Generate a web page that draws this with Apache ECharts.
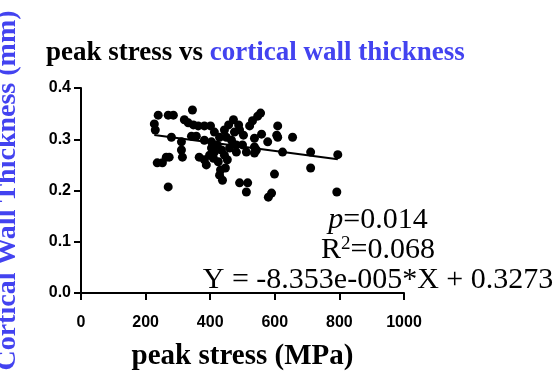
<!DOCTYPE html>
<html>
<head>
<meta charset="utf-8">
<script src="https://cdn.jsdelivr.net/npm/echarts@6/dist/echarts.min.js"></script>
<style>
  html, body { margin: 0; padding: 0; background: #fff; }
  #chart { width: 555px; height: 381px; }
</style>
</head>
<body>
<div id="chart"></div>
<script>
// Peak stress (MPa) per specimen
const peakStress = [
  239, 270, 286, 345, 227, 230, 320, 332, 348, 363,
  382, 401, 457, 472, 488, 522, 531, 547, 556, 609,
  280, 311, 342, 357, 429, 450, 404, 404, 481, 500,
  537, 537, 578, 609, 655, 624, 711, 795, 711, 599,
  590, 580, 792, 264, 273, 236, 252, 314, 311, 366,
  388, 382, 429, 438, 481, 512, 537, 491, 516, 512,
  270, 413, 422, 435, 444, 453, 460, 466, 410, 425,
  447, 432, 398, 475, 491, 444, 413, 382, 503, 559,
  606, 543
];
// Cortical wall thickness (mm) per specimen
const wallThickness = [
  0.347, 0.347, 0.347, 0.357, 0.330, 0.318, 0.338, 0.332, 0.328, 0.326,
  0.326, 0.326, 0.328, 0.338, 0.328, 0.326, 0.336, 0.345, 0.351, 0.326,
  0.304, 0.295, 0.306, 0.306, 0.304, 0.304, 0.295, 0.283, 0.289, 0.289,
  0.302, 0.285, 0.295, 0.304, 0.304, 0.275, 0.275, 0.270, 0.244, 0.232,
  0.195, 0.187, 0.197, 0.265, 0.265, 0.254, 0.254, 0.265, 0.279, 0.265,
  0.250, 0.260, 0.230, 0.220, 0.275, 0.275, 0.273, 0.215, 0.215, 0.197,
  0.207, 0.275, 0.289, 0.279, 0.269, 0.260, 0.283, 0.298, 0.263, 0.256,
  0.244, 0.240, 0.269, 0.314, 0.318, 0.318, 0.314, 0.298, 0.308, 0.310,
  0.308, 0.279
];
// Linear fit reported for the data
const fitSlope = -8.353e-5;
const fitIntercept = 0.3273;
const fitEquation = 'Y = -8.353e-005*X + 0.3273';
const fitP = '0.014';
const fitR2 = '0.068';

const xTicks = [0, 200, 400, 600, 800, 1000];
const yTicks = [0.0, 0.1, 0.2, 0.3, 0.4];

const blue = '#4343F0';
const serif = '"Liberation Serif", "Times New Roman", serif';
const sans = '"Liberation Sans", Arial, sans-serif';

const points = peakStress.map((x, i) => [x, wallThickness[i]]);
const xMin = Math.min(...peakStress);
const xMax = Math.max(...peakStress);
const fitLine = [xMin, xMax].map(x => [x, fitSlope * x + fitIntercept]);

const chart = echarts.init(document.getElementById('chart'), null, { renderer: 'canvas' });
chart.setOption({
  animation: false,
  backgroundColor: '#fff',
  title: {
    text: '{a|peak stress vs }{b|cortical wall thickness}',
    left: 41,
    top: 35,
    textStyle: {
      rich: {
        a: { fontFamily: serif, fontWeight: 'bold', fontSize: 27, color: '#000' },
        b: { fontFamily: serif, fontWeight: 'bold', fontSize: 27, color: blue }
      }
    }
  },
  grid: { left: 81, right: 151, top: 88, bottom: 88, containLabel: false, outerBoundsMode: 'none' },
  xAxis: {
    type: 'value',
    min: xTicks[0],
    max: xTicks[xTicks.length - 1],
    interval: 200,
    name: 'peak stress (MPa)',
    nameLocation: 'middle',
    nameGap: 49,
    nameTextStyle: { fontFamily: serif, fontWeight: 'bold', fontSize: 29, color: '#000' },
    axisLine: { show: true, lineStyle: { color: '#000', width: 2 } },
    axisTick: { show: true, length: 7, lineStyle: { color: '#000', width: 2 } },
    axisLabel: {
      fontFamily: sans, fontWeight: 'bold', fontSize: 16, color: '#000', margin: 22,
      formatter: v => String(v)
    },
    splitLine: { show: false }
  },
  yAxis: {
    type: 'value',
    min: yTicks[0],
    max: yTicks[yTicks.length - 1],
    interval: 0.1,
    name: 'Cortical Wall Thickness (mm)',
    nameLocation: 'middle',
    nameGap: 59,
    nameTextStyle: { fontFamily: serif, fontWeight: 'bold', fontSize: 28, color: blue },
    axisLine: { show: true, onZero: false, lineStyle: { color: '#000', width: 2 } },
    axisTick: { show: true, length: 7, lineStyle: { color: '#000', width: 2 } },
    axisLabel: {
      fontFamily: sans, fontWeight: 'bold', fontSize: 16, color: '#000', margin: 10,
      formatter: v => v.toFixed(1)
    },
    splitLine: { show: false }
  },
  series: [
    {
      type: 'scatter',
      data: points,
      symbol: 'circle',
      symbolSize: 9,
      itemStyle: { color: '#000', opacity: 1 },
      z: 3
    },
    {
      type: 'line',
      data: fitLine,
      symbol: 'none',
      lineStyle: { color: '#000', width: 2 },
      z: 2
    }
  ],
  graphic: [
    {
      type: 'text',
      x: 378,
      y: 205,
      style: {
        text: '{i|p}{n|=' + fitP + '}\n{n|R}{s|2}{n|=' + fitR2 + '}\n{n|' + fitEquation + '}',
        align: 'center',
        verticalAlign: 'top',
        rich: {
          i: { fontFamily: serif, fontStyle: 'italic', fontSize: 30, color: '#000', lineHeight: 30 },
          n: { fontFamily: serif, fontSize: 30, color: '#000', lineHeight: 30 },
          s: { fontFamily: serif, fontSize: 19, color: '#000', lineHeight: 19, verticalAlign: 'top' }
        }
      }
    }
  ]
});
</script>
</body>
</html>
